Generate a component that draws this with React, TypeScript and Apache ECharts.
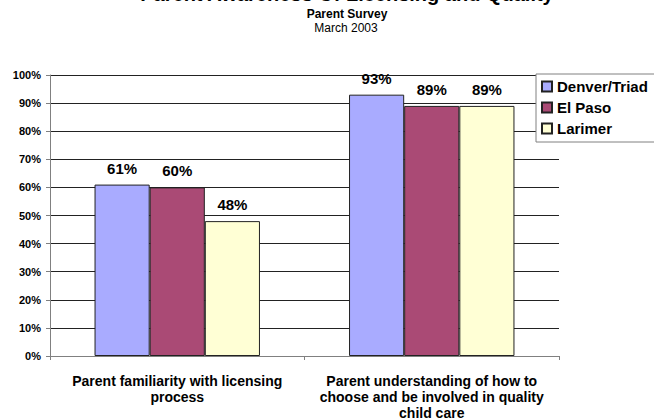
import React, { useEffect, useRef } from "react";
import * as echarts from "echarts";

const categories = [
  "Parent familiarity with licensing\nprocess",
  "Parent understanding of how to\nchoose and be involved in quality\nchild care",
];
const seriesNames = ["Denver/Triad", "El Paso", "Larimer"];
const denverTriad = [61, 93];
const elPaso = [60, 89];
const larimer = [48, 89];
const yTicks = [0, 10, 20, 30, 40, 50, 60, 70, 80, 90, 100];
const colors = ["#a9abff", "#aa4a75", "#ffffd5"];

export default function App() {
  const ref = useRef<HTMLDivElement>(null);
  useEffect(() => {
    if (!ref.current) return;
    const chart = echarts.init(ref.current, null, { renderer: "svg" });
    const font = "Liberation Sans, Arial, sans-serif";
    const values = [denverTriad, elPaso, larimer];
    chart.setOption({
      animation: false,
      backgroundColor: "#ffffff",
      textStyle: { fontFamily: font },
      title: [
        {
          text: "Parent Awareness Of Licensing and Quality",
          left: 347,
          textAlign: "center",
          top: -16,
          padding: 0,
          textStyle: { fontSize: 20, fontWeight: "bold", color: "#000", fontFamily: font },
        },
        {
          text: "Parent Survey",
          left: 347,
          textAlign: "center",
          top: 8,
          padding: 0,
          textStyle: { fontSize: 12, fontWeight: "bold", color: "#000", fontFamily: font },
        },
        {
          text: "March 2003",
          left: 346,
          textAlign: "center",
          top: 22,
          padding: 0,
          textStyle: { fontSize: 12, fontWeight: "normal", color: "#000", fontFamily: font },
        },
      ],
      legend: {
        orient: "vertical",
        left: 536,
        top: 74,
        data: seriesNames,
        icon: "rect",
        itemWidth: 10,
        itemHeight: 10,
        itemGap: 6,
        padding: [5, 12, 6, 5],
        backgroundColor: "#ffffff",
        borderColor: "#808080",
        borderWidth: 1,
        borderRadius: 0,
        textStyle: { fontSize: 15, fontWeight: "bold", color: "#000", fontFamily: font },
      },
      grid: {
        left: 50,
        top: 75,
        width: 509,
        height: 281,
        containLabel: false,
        outerBoundsMode: "none",
      },
      xAxis: {
        type: "category",
        data: categories,
        axisLine: { lineStyle: { color: "#808080", width: 1 } },
        axisTick: { show: true, length: 4, lineStyle: { color: "#808080" } },
        axisLabel: {
          fontSize: 14,
          fontWeight: "bold",
          color: "#000",
          margin: 17,
          lineHeight: 16,
          interval: 0,
          fontFamily: font,
        },
      },
      yAxis: {
        type: "value",
        min: yTicks[0],
        max: yTicks[yTicks.length - 1],
        interval: 10,
        axisLine: { show: true, lineStyle: { color: "#808080", width: 1 } },
        axisTick: { show: true, length: 4, lineStyle: { color: "#808080" } },
        splitLine: { show: true, lineStyle: { color: "#222222", width: 1 } },
        axisLabel: {
          formatter: "{value}%",
          fontSize: 11,
          fontWeight: "bold",
          color: "#000",
          margin: 9,
          fontFamily: font,
        },
      },
      series: seriesNames.map((name, i) => ({
        name,
        type: "bar",
        data: values[i],
        barGap: "0%",
        barCategoryGap: "35%",
        itemStyle: { color: colors[i], borderColor: "#222222", borderWidth: 1 },
        label: {
          show: true,
          position: "top",
          distance: 9,
          formatter: "{c}%",
          fontSize: 15,
          fontWeight: "bold",
          color: "#000",
          fontFamily: font,
        },
      })),
    });
    return () => chart.dispose();
  }, []);
  return (
    <div
      ref={ref}
      style={{ position: "fixed", left: 0, top: 0, width: 654, height: 419 }}
    />
  );
}
